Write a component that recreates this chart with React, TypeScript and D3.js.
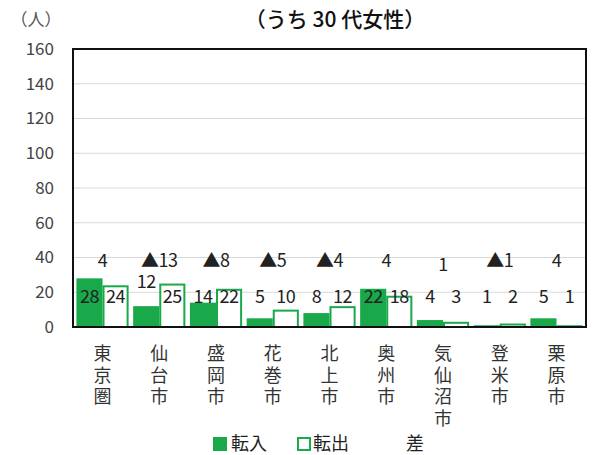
import * as d3 from "d3";
import React from "react";

const categories = ["東京圏", "仙台市", "盛岡市", "花巻市", "北上市", "奥州市", "気仙沼市", "登米市", "栗原市"];
const tennyu = [28, 12, 14, 5, 8, 22, 4, 1, 5];
const tenshutsu = [24, 25, 22, 10, 12, 18, 3, 2, 1];
const diffLabels = ["4", "▲13", "▲8", "▲5", "▲4", "4", "1", "▲1", "4"];
const yTicks = [0, 20, 40, 60, 80, 100, 120, 140, 160];

const W = 597;
const H = 455;
const margin = { top: 49, right: 11, bottom: 128, left: 73 };
const GREEN = "#19a84a";
const FONT = "'Noto Sans CJK JP', 'Noto Sans', sans-serif";

export default function App() {
  const x = d3
    .scaleBand<string>()
    .domain(categories)
    .range([margin.left, W - margin.right])
    .paddingInner(0.08)
    .paddingOuter(0.06);
  const y = d3
    .scaleLinear()
    .domain([0, 160])
    .range([H - margin.bottom, margin.top]);
  const half = x.bandwidth() / 2;

  return (
    <svg width={W} height={H} style={{ position: "absolute", left: 0, top: 0, background: "#fff" }} fontFamily={FONT}>
      {/* title + unit */}
      <text x={335} y={20} dy="0.35em" textAnchor="middle" fontSize={21} fontWeight={500} fill="#111">
        （うち 30 代女性）
      </text>
      <text x={36} y={20} dy="0.35em" textAnchor="middle" fontSize={17} fill="#555">（人）</text>

      {/* grid + y axis labels */}
      {yTicks.map((t) => (
        <g key={t}>
          <line x1={margin.left} x2={W - margin.right} y1={y(t)} y2={y(t)} stroke="#d9d9d9" strokeWidth={1.2} />
          <text x={54} y={y(t)} dy="0.35em" textAnchor="end" fontSize={17} fill="#444">{t}</text>
        </g>
      ))}

      {/* bars */}
      {categories.map((c, i) => {
        const x0 = x(c)!;
        return (
          <g key={c}>
            <rect x={x0} y={y(tennyu[i])} width={half} height={y(0) - y(tennyu[i])} fill={GREEN} />
            <rect
              x={x0 + half + 1}
              y={y(tenshutsu[i]) + 1}
              width={half - 2}
              height={Math.max(0, y(0) - y(tenshutsu[i]) - 1)}
              fill="#fff"
              stroke={GREEN}
              strokeWidth={2}
            />
          </g>
        );
      })}

      {/* plot frame */}
      <rect
        x={margin.left}
        y={margin.top}
        width={W - margin.left - margin.right}
        height={H - margin.top - margin.bottom}
        fill="none"
        stroke="#111"
        strokeWidth={2}
      />

      {/* value labels */}
      {categories.map((c, i) => {
        const x0 = x(c)!;
        return (
          <g key={c} fontSize={18} fill="#222" textAnchor="middle" letterSpacing={-0.5}>
            <text x={x0 + half / 2} y={i === 1 ? 282 : 297} dy="0.35em">{tennyu[i]}</text>
            <text x={x0 + half * 1.5} y={297} dy="0.35em">{tenshutsu[i]}</text>
            <text x={x0 + half} y={i === 6 ? y(36) : y(38)} dy="0.35em">{diffLabels[i]}</text>
          </g>
        );
      })}

      {/* vertical category labels */}
      {categories.map((c) => (
        <text key={c} fontSize={18} fill="#333" textAnchor="middle">
          {c.split("").map((ch, j) => (
            <tspan key={j} x={x(c)! + half} y={354 + j * 21.5} dy="0.35em">{ch}</tspan>
          ))}
        </text>
      ))}

      {/* legend */}
      <g fontSize={18} fill="#222">
        <rect x={213} y={437} width={14} height={14} fill={GREEN} />
        <text x={231} y={444} dy="0.35em">転入</text>
        <rect x={298} y={438} width={12} height={12} fill="#fff" stroke={GREEN} strokeWidth={2} />
        <text x={313} y={444} dy="0.35em">転出</text>
        <text x={406} y={444} dy="0.35em">差</text>
      </g>
    </svg>
  );
}
